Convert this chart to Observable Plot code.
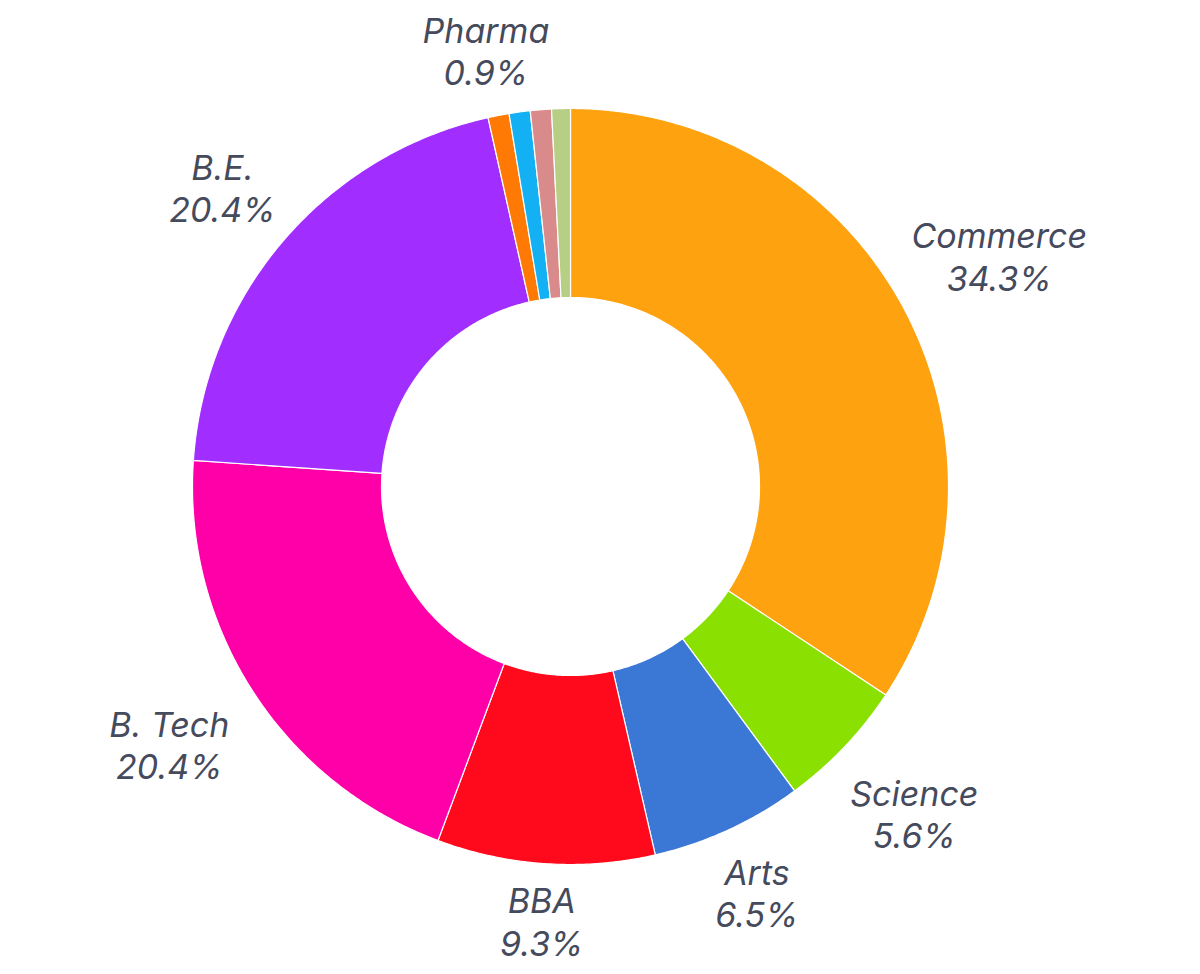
<!DOCTYPE html>
<html>
<head>
<meta charset="utf-8">
<script src="https://cdn.jsdelivr.net/npm/d3@7"></script>
<script src="https://cdn.jsdelivr.net/npm/@observablehq/plot@0.6"></script>
<style>
  html, body { margin: 0; padding: 0; background: #ffffff; }
  #chart { width: 1200px; height: 974px; }
</style>
</head>
<body>
<div id="chart"></div>
<script>
// Data (clockwise from top, in the order drawn)
const categories = ["Commerce", "Science", "Arts", "BBA", "B. Tech", "B.E.", "Pharma", "Other A", "Other B", "Other C"];
const shares = [34.3, 5.6, 6.5, 9.3, 20.4, 20.4, 0.9, 0.9, 0.9, 0.8];
const showLabel = [true, true, true, true, true, true, true, false, false, false];
const colors = ["#ffa20f", "#8ae000", "#3b78d6", "#ff0a1c", "#ff00a8", "#a12eff", "#ff7a05", "#14b0f4", "#d98b8b", "#b6cf84"];

const W = 1200, H = 974;
const cx = 570, cy = 486, R = 378;
const hole = 0.5;
const fontSize = 34;

const total = d3.sum(shares);
const pie = d3.pie().sort(null).value(d => d.value).startAngle(0).endAngle(2 * Math.PI);
const rows = categories.map((c, i) => ({name: c, value: shares[i], color: colors[i], show: showLabel[i]}));
const arcs = pie(rows);

function ring(a0, a1) {
  const n = Math.max(4, Math.ceil((a1 - a0) / (Math.PI / 360)));
  const pts = [];
  for (let k = 0; k <= n; k++) { const a = a0 + (a1 - a0) * k / n; pts.push([Math.sin(a), Math.cos(a)]); }
  for (let k = n; k >= 0; k--) { const a = a0 + (a1 - a0) * k / n; pts.push([hole * Math.sin(a), hole * Math.cos(a)]); }
  pts.push(pts[0]);
  return pts;
}

const features = arcs.map(a => ({
  type: "Feature",
  properties: {name: a.data.name, color: a.data.color},
  geometry: {type: "Polygon", coordinates: [ring(a.startAngle, a.endAngle)]}
}));

// Label placement: outside the ring along the mid-angle
const labels = arcs.filter(a => a.data.show).map(a => {
  const m = (a.startAngle + a.endAngle) / 2;
  const pct = (a.data.value / total * 100).toFixed(1) + "%";
  const wChars = Math.max(a.data.name.length, pct.length);
  const w = wChars * fontSize * 0.64;
  const h = fontSize * 2.5;
  const dist = R + 12 + Math.abs(Math.sin(m)) * w / 2 + Math.abs(Math.cos(m)) * h / 2;
  return {x: Math.sin(m) * dist / R, y: Math.cos(m) * dist / R, text: a.data.name + "\n" + pct};
});

const chart = Plot.plot({
  width: W,
  height: H,
  margin: 0,
  projection: () => d3.geoIdentity().reflectY(true).scale(R).translate([cx, cy]),
  style: {background: "#ffffff"},
  marks: [
    Plot.geo(features, {fill: d => d.properties.color, stroke: "#ffffff", strokeWidth: 1.2}),
    Plot.text(labels, {
      x: "x", y: "y", text: "text",
      fontSize: fontSize,
      fontStyle: "italic",
      fontFamily: "Inter, 'Open Sans', sans-serif",
      fill: "#454a5c",
      lineHeight: 1.25,
      textAnchor: "middle",
      letterSpacing: "0.6px"
    })
  ]
});
document.getElementById("chart").appendChild(chart);
</script>
</body>
</html>
